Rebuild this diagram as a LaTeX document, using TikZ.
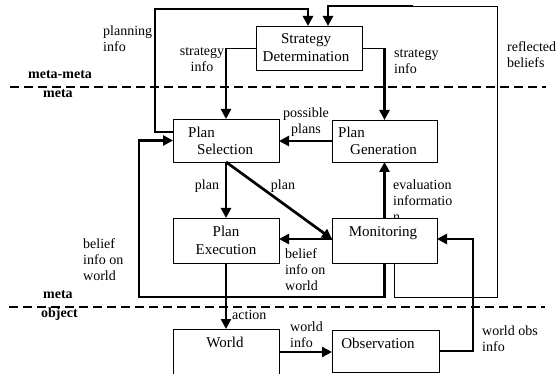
\documentclass[tikz,border=0pt]{standalone}
\usepackage{fontspec}
\setmainfont{Liberation Serif}
\usetikzlibrary{arrows.meta}
\begin{document}
\begin{tikzpicture}[x=1pt,y=1pt,
  box/.style={draw, line width=0.9pt, fill=white, inner sep=0pt, outer sep=0pt},
  txt/.style={inner sep=0pt, font=\fontsize{15}{18}\selectfont},
  lbl/.style={inner sep=0pt, align=left, font=\fontsize{14}{16}\selectfont},
  lev/.style={inner sep=0pt, font=\fontsize{14}{16}\selectfont\bfseries},
  thickarrow/.style={line width=2.7pt, -{Triangle[length=10pt,width=10pt]}},
  thinline/.style={line width=0.9pt},
  levelline/.style={line width=2.2pt, dash pattern=on 9pt off 5pt}]
\useasboundingbox (0,0) rectangle (558,373);

% level separators
\coordinate (t1) at (10,286);
\coordinate (t2) at (546,286);
\coordinate (b1) at (9,66);
\coordinate (b2) at (545,66);
\draw[levelline] (t1) -- (t2);
\draw[levelline] (b1) -- (b2);
\node[lev, anchor=west] (mm) at (28,298) {meta-meta};
\node[lev, anchor=west] (m1) at (43,279) {meta};
\node[lev, anchor=west] (m2) at (43,78) {meta};
\node[lev, anchor=west] (ob) at (41,59) {object};

% label partly hidden by the Monitoring box
\node[lbl, anchor=west] (leval) at (393,172) {evaluation\\informatio\\n};

% boxes
\node[box, minimum width=106pt, minimum height=44pt] (strat) at (309,325) {};
\node[box, minimum width=106pt, minimum height=43pt] (sel) at (226,232.5) {};
\node[box, minimum width=105pt, minimum height=42pt] (gen) at (384.5,232) {};
\node[box, minimum width=106pt, minimum height=45pt] (exe) at (226,132.5) {};
\node[box, minimum width=105pt, minimum height=45pt] (mon) at (384.5,132.5) {};
\node[box, minimum width=106pt, minimum height=46pt] (world) at (226,21) {};
\node[box, minimum width=107pt, minimum height=42pt] (obs) at (385.5,22) {};

% box texts
\node[txt, align=center] (tstrat) at (306,325.5) {Strategy\\Determination};
\node[txt, align=left, anchor=west, font=\fontsize{15}{17}\selectfont] (tsel) at (188,232.5) {Plan\\\hspace*{9pt}Selection};
\node[txt, align=left, anchor=west, font=\fontsize{15}{17}\selectfont] (tgen) at (338,232.5) {Plan\\\hspace*{12pt}Generation};
\node[txt, align=center] (texe) at (226,132.5) {Plan\\Execution};
\node[txt] (tmon) at (383,140) {Monitoring};
\node[txt] (tworld) at (225,31) {World};
\node[txt] (tobs) at (378,30) {Observation};

% connectors
% planning info
\draw[thickarrow] ([yshift=8.5pt]sel.west) -| (155,364) -| ([xshift=-1pt]strat.north);
% reflected beliefs
\draw[thinline] ([xshift=9.5pt]mon.south) |- (497,76) |- (413,367);
\draw[thickarrow] (413,367) -| ([xshift=19pt]strat.north);
% strategy info (left)
\draw[thinline] (strat.west) -- (sel.north |- strat.west);
\draw[thickarrow] (sel.north |- strat.west) -- (sel.north);
% strategy info (right)
\draw[thinline] (strat.east) -- (gen.north |- strat.east);
\draw[thickarrow] (gen.north |- strat.east) -- (gen.north);
% possible plans
\draw[thickarrow] (gen.west) -- (gen.west -| sel.east);
% plan
\draw[thickarrow] (sel.south) -- (exe.north);
\draw[thickarrow] (sel.south) -- ([yshift=1.5pt]mon.west);
% belief info on world (middle)
\draw[thickarrow] ([yshift=1.5pt]mon.west) -- ([yshift=1.5pt]mon.west -| exe.east);
% evaluation information
\draw[thickarrow] (mon.north) -- (gen.south);
% belief info on world (loop)
\draw[thickarrow] (mon.south) |- (139,76) |- (sel.west);
% action
\draw[thickarrow] (exe.south) -- (world.north);
% world info
\draw[thickarrow] (world.east) -- (world.east -| obs.west);
% world obs info
\draw[thickarrow] (obs.east) -| ([xshift=36pt,yshift=1.5pt]mon.east) -- ([yshift=1.5pt]mon.east);

% labels
\node[lbl, anchor=west] (lplan) at (103,334.5) {planning\\info};
\node[lbl, align=center] (lstl) at (202,313.5) {strategy\\info};
\node[lbl, anchor=west] (lstr) at (394,311.5) {strategy\\info};
\node[lbl, anchor=west] (lref) at (507,318) {reflected\\beliefs};
\node[lbl, align=center] (lposs) at (306,251) {possible\\plans};
\node[lbl] (lp1) at (207,187) {plan};
\node[lbl] (lp2) at (283,187) {plan};
\node[lbl, anchor=west] (lbm) at (285,103) {belief\\info on\\world};
\node[lbl, anchor=west] (lbl) at (83,113) {belief\\info on\\world};
\node[lbl, anchor=west] (lact) at (232,58) {action};
\node[lbl, anchor=west] (lwi) at (290,38.5) {world\\info};
\node[lbl, anchor=west] (lwo) at (482,34.5) {world obs\\info};
\end{tikzpicture}
\end{document}
